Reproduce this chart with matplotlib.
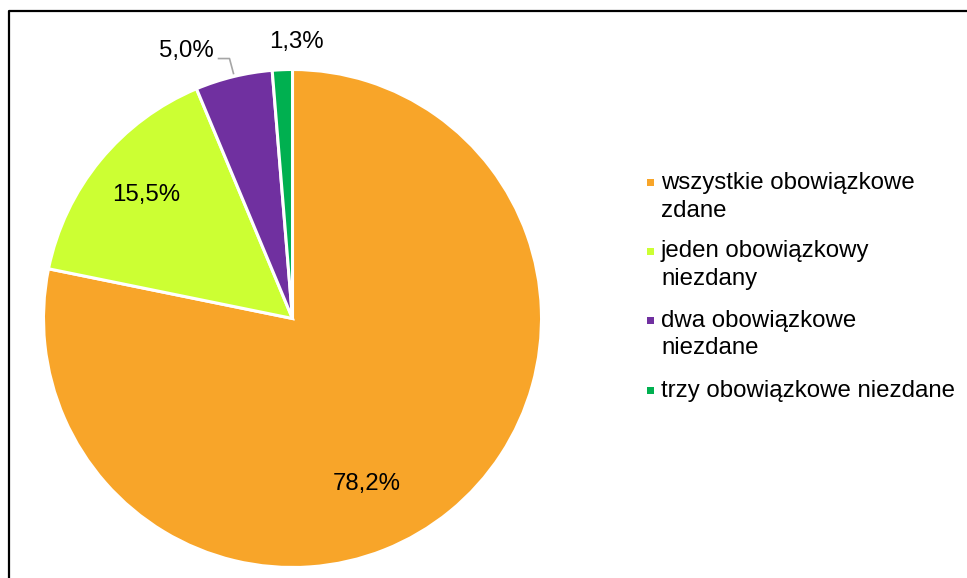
import matplotlib
matplotlib.use('Agg')
import matplotlib.pyplot as plt
from matplotlib.lines import Line2D
from matplotlib.patches import Rectangle

plt.rcParams['font.family'] = ['Liberation Sans', 'DejaVu Sans']

# data
categories = ['wszystkie obowiązkowe\nzdane', 'jeden obowiązkowy\nniezdany',
              'dwa obowiązkowe\nniezdane', 'trzy obowiązkowe niezdane']
shares = [78.2, 15.5, 5.0, 1.3]
colors = ['#F8A529', '#CCFF33', '#7030A0', '#00B050']

# label anchors in pie coords (radius = 1)
label_pos = [(0.30, -0.664), (-0.586, 0.494), (-0.426, 1.076), (0.016, 1.112)]

W, H = 967, 578
fig = plt.figure(figsize=(W / 100, H / 100), dpi=100)

# pie axes, placed in pixels
cx, cy, R = 292.5, 318.5, 249
ax = fig.add_axes([(cx - R) / W, (H - cy - R) / H, 2 * R / W, 2 * R / H])
ax.pie(shares, colors=colors, startangle=90, counterclock=False, radius=1,
       wedgeprops=dict(edgecolor='white', linewidth=2.2))
ax.set_xlim(-1, 1)
ax.set_ylim(-1, 1)
ax.set_aspect('equal')
ax.axis('off')

for v, (x, y) in zip(shares, label_pos):
    ax.text(x, y, f'{v:.1f}%'.replace('.', ','), ha='center', va='center',
            fontsize=17.3, color='black', clip_on=False)

# leader line for the small purple slice
ax.add_line(Line2D([-0.297, -0.253, -0.237], [1.044, 1.044, 0.984],
                   color='#A6A6A6', lw=1.2, clip_on=False))

# legend drawn by hand (square markers, wrapped labels)
entry_y = [182.5, 251, 320, 390]
line_h = 28
for lab, col, y in zip(categories, colors, entry_y):
    fig.patches.append(Rectangle(((646.5) / W, (H - y - 3.5) / H), 7 / W, 7 / H,
                                 transform=fig.transFigure, facecolor=col,
                                 edgecolor='none'))
    for k, line in enumerate(lab.split('\n')):
        fig.text(661 / W, (H - (y + 6.5 + k * line_h)) / H, line,
                 fontsize=17.3, ha='left', va='baseline', color='black')

# chart frame (only left and top edges are visible in the crop)
fig.add_artist(Line2D([8.5 / W, 8.5 / W, 1.0], [0.0, (H - 10.5) / H, (H - 10.5) / H],
                      transform=fig.transFigure, color='black', lw=1.6))

fig.savefig('out.png', dpi=100, facecolor='white')
